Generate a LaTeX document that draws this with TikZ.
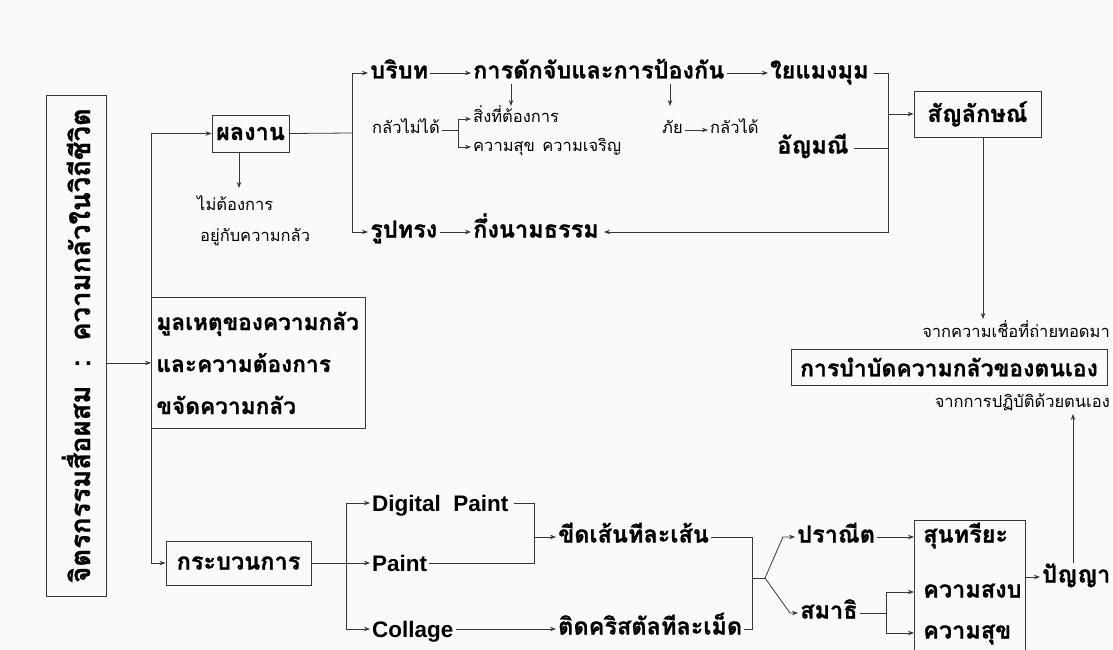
\documentclass[tikz,border=0pt]{standalone}
\usepackage{fontspec}
\usetikzlibrary{arrows.meta}
\newfontfamily\thaifont[Script=Thai, BoldFeatures={FakeBold=0.8}]{Loma}
\newfontfamily\latfont{Liberation Sans}
\definecolor{bgc}{RGB}{250,250,250}
\definecolor{linec}{RGB}{55,55,55}
\newcommand\thB{\thaifont\bfseries\fontsize{23.5}{27}\selectfont}
\newcommand\thS{\thaifont\fontsize{16.5}{19}\selectfont}
\newcommand\laB{\latfont\bfseries\fontsize{22.5}{26}\selectfont}
\tikzset{
  lbl/.style={inner xsep=2pt, inner ysep=0pt, text height=11pt, text depth=0pt, anchor=west},
  big/.style={lbl, font=\thB},
  sml/.style={lbl, font=\thS, text height=8pt},
  lat/.style={lbl, font=\laB, text height=16pt},
  boxst/.style={draw=linec, line width=0.9pt, inner sep=0pt},
  ln/.style={draw=linec, line width=0.8pt},
  arr/.style={ln, -{Stealth[length=6pt,width=4.5pt]}}
}
\begin{document}
\begin{tikzpicture}[x=1pt,y=-1pt]
\fill[bgc] (0,0) rectangle (1113,650);
\useasboundingbox (0,0) rectangle (1113,650);

% boxes
\node[boxst, minimum width=60pt, minimum height=501pt] (title) at (76,345.5)
  {\rotatebox{90}{\thaifont\bfseries\fontsize{27.5}{30}\selectfont จิตรกรรมสื่อผสม\ \ :\ \ ความกลัวในวิถีชีวิต}};
\node[boxst, anchor=north west, minimum width=214pt, minimum height=131pt, text width=204pt, align=left,
  font=\thaifont\bfseries\fontsize{22.7}{42}\selectfont] (mb) at (151,297)
  {มูลเหตุของความกลัว\\และความต้องการ\\ขจัดความกลัว};
\node[boxst, minimum width=77pt, minimum height=37pt, font=\thB] (pl) at (250.5,133.5) {ผลงาน};
\node[boxst, minimum width=127pt, minimum height=46pt, font=\thB] (sym) at (977.5,114) {สัญลักษณ์};
\node[boxst, minimum width=316pt, minimum height=36pt, font=\thaifont\bfseries\fontsize{23}{27}\selectfont] (cure) at (949,367) {การบำบัดความกลัวของตนเอง};
\node[boxst, minimum width=145pt, minimum height=44pt, font=\thB] (proc) at (238.5,563) {กระบวนการ};
\node[boxst, anchor=north west, minimum width=111pt, minimum height=140pt] (resbox) at (914,520) {};

% top texts
\node[big] (bor) at (368,73) {บริบท};
\node[big] (kan) at (471,73) {การดักจับและการป้องกัน};
\node[big] (yai) at (768,73) {ใยแมงมุม};
\node[big] (amn) at (775,148) {อัญมณี};
\node[big] (rup) at (368,232) {รูปทรง};
\node[big] (knm) at (471,232) {กึ่งนามธรรม};
\node[sml] (kl) at (370,130) {กลัวไม่ได้};
\node[sml] (sing) at (471,119) {สิ่งที่ต้องการ};
\node[sml] (suk2) at (471,147) {ความสุข\hspace{0.45em}ความเจริญ};
\node[sml] (phai) at (660,130) {ภัย};
\node[sml] (kld) at (708,130) {กลัวได้};
\node[sml] (nt1) at (195,206) {ไม่ต้องการ};
\node[sml] (nt2) at (198,237) {อยู่กับความกลัว};
\node[sml, anchor=east] (cb) at (1112,333) {จากความเชื่อที่ถ่ายทอดมา};
\node[sml, anchor=east] (cp) at (1112,403) {จากการปฏิบัติด้วยตนเอง};

% bottom texts
\node[lat] (dp) at (370,503) {Digital\ \ Paint};
\node[lat] (pt) at (370,563) {Paint};
\node[lat] (col) at (370,629) {Collage};
\node[big] (khit) at (556,537) {ขีดเส้นทีละเส้น};
\node[big] (tid) at (556,629) {ติดคริสตัลทีละเม็ด};
\node[big] (prn) at (795,537) {ปราณีต};
\node[big] (sma) at (798,613) {สมาธิ};
\node[big] (sunt) at (921,537) {สุนทรียะ};
\node[big] (sang) at (921,592) {ความสงบ};
\node[big] (suk3) at (921,633) {ความสุข};
\node[big] (pan) at (1040,577) {ปัญญา};

% junction coordinates
\coordinate (j1) at (352,133);
\coordinate (vx) at (888,0);
\coordinate (j3) at (458,0);
\coordinate (j4) at (346,0);
\coordinate (j5) at (534,0);
\coordinate (j6) at (752,578);
\coordinate (j7) at (765,578);
\coordinate (j8) at (886,0);
\coordinate (a1) at (239,188);
\coordinate (d1s) at (511,84);
\coordinate (d1e) at (511,106);
\coordinate (d2s) at (670,84);
\coordinate (d2e) at (670,106);
\coordinate (symd) at (983,319);
\coordinate (u1) at (1073,563);
\coordinate (u2) at (1073,414);

% connectors
\draw[arr] (title.east |- mb.west) -- (mb.west);
\draw[arr] (mb.north west) -- (mb.north west |- pl.west) -- (pl.west);
\draw[arr] (mb.south west) -- (mb.south west |- proc.west) -- (proc.west);
\draw[arr] (a1 |- pl.south) -- (a1);
\draw[ln] (pl.east) -- (j1);
\draw[arr] (j1) |- (bor.west);
\draw[arr] (j1) |- (rup.west);
\draw[arr] (bor.east) -- (kan.west);
\draw[arr] (kan.east) -- (yai.west);
\draw[arr] (rup.east) -- (knm.west);
\draw[arr, shorten >=3pt, shorten <=3pt] (yai.east) -- (yai.east -| vx) -- (knm.east -| vx) -- (knm.east);
\draw[ln, shorten <=3pt] (amn.east) -- (amn.east -| vx);
\draw[arr] (sym.west -| vx) -- (sym.west);
\draw[arr] (d1s) -- (d1e);
\draw[arr] (d2s) -- (d2e);
\draw[ln] (kl.east) -- (kl.east -| j3);
\draw[arr] (kl.east -| j3) |- (sing.west);
\draw[arr] (kl.east -| j3) |- (suk2.west);
\draw[arr] (phai.east) -- (kld.west);
\draw[arr] (sym.south -| symd) -- (symd);
\draw[arr] (u1) -- (u2);

\draw[ln] (proc.east) -- (proc.east -| j4);
\draw[arr] (proc.east -| j4) |- (dp.west);
\draw[arr] (proc.east -| j4) -- (pt.west);
\draw[arr] (proc.east -| j4) |- (col.west);
\draw[ln, shorten <=3pt] (dp.east) -- (dp.east -| j5) -- (pt.east -| j5) -- (pt.east);
\draw[arr] (khit.west -| j5) -- (khit.west);
\draw[arr] (col.east) -- (tid.west);
\draw[ln] (khit.east) -- (khit.east -| j6) -- (tid.east -| j6) -- (tid.east);
\draw[ln] (j6) -- (j7);
\draw[arr] (j7) -- ([xshift=-12pt]prn.west) -- (prn.west);
\draw[arr] (j7) -- ([xshift=-8pt]sma.west) -- (sma.west);
\draw[arr] (prn.east) -- (resbox.west |- prn.west);
\draw[ln] (sma.east) -- (sma.east -| j8);
\draw[arr] (sma.east -| j8) |- (resbox.west |- sang.west);
\draw[arr] (sma.east -| j8) |- (resbox.west |- suk3.west);
\draw[arr] (resbox.east |- pan.west) -- (pan.west);
\end{tikzpicture}
\end{document}
